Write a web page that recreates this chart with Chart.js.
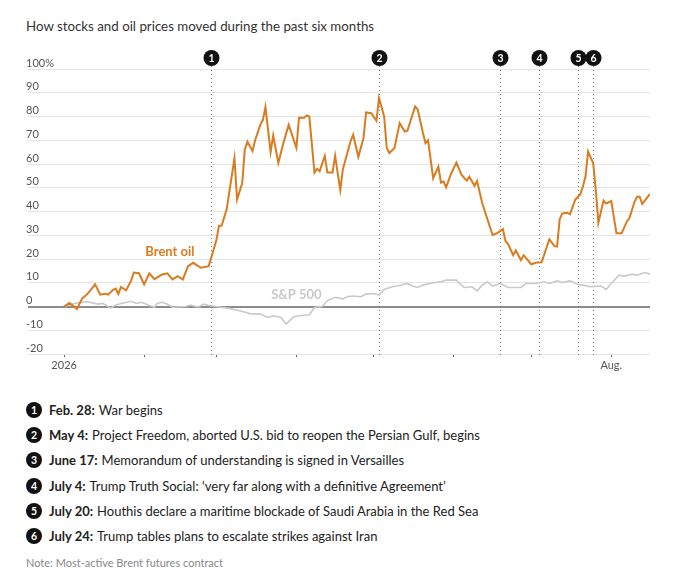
<!DOCTYPE html>
<html>
<head>
<meta charset="utf-8">
<script src="https://cdn.jsdelivr.net/npm/chart.js@4.4.1/dist/chart.umd.min.js"></script>
<style>
  body { margin: 0; width: 699px; height: 570px; background: #fff; position: relative; overflow: hidden;
         font-family: Lato, "Noto Sans", sans-serif; color: #222; }
  #title { position: absolute; left: 26px; top: 18px; font-size: 13.3px; color: #333; white-space: nowrap; }
  #wrap { position: absolute; left: 0; top: 0; width: 699px; height: 380px; }
  #events { position: absolute; left: 26px; top: 397px; margin: 0; padding: 0; list-style: none; font-size: 13px; }
  #events li { height: 25.3px; display: flex; align-items: center; white-space: nowrap; }
  #events .num { width: 16px; height: 16px; border-radius: 50%; background: #111; color: #fff; font-size: 10.5px;
                 font-weight: 700; display: flex; align-items: center; justify-content: center; margin-right: 7px; }
  #events b { margin-right: 4px; }
  #note { position: absolute; left: 26px; top: 556px; font-size: 11px; color: #888; }
</style>
</head>
<body>
<div id="title">How stocks and oil prices moved during the past six months</div>
<div id="wrap"><canvas id="chart"></canvas></div>
<ul id="events"></ul>
<div id="note">Note: Most-active Brent futures contract</div>
<script>
// days since Jan. 1, 2026
const brentDays = [0,2,5,7,9,12,14,16,17,19,20,21,22,24,26,27,29,31,33,35,38,40,42,44,46,48,50,53,56,57,
  59,60,61,63,66,67,69,70,71,73,74,76,77,78,80,81,83,85,87,90,91,93,94,95,97,98,99,101,102,104,
  105,107,108,111,112,114,116,117,119,121,122,124,125,126,128,130,132,133,136,137,139,140,141,143,145,146,147,148,150,152,
  154,156,157,159,160,162,166,168,170,171,172,174,175,177,178,181,183,185,188,190,191,192,193,195,196,198,200,201,202,203,
  205,206,207,209,210,212,214,216,218,219,221,222,223,224,227];
const brentPct = [0,1.5,-1,3.4,5.2,9.3,5,5.4,5,7,7.5,5.3,8.2,6.8,11,14.3,14,9.3,14,11.5,13.5,14,11.4,12.8,11.4,17,18.4,16.3,17,20.5,
  28,34,34,41,62.5,45,52,66,69.5,65.5,70,76.5,78.5,84,65,72,60.5,69,76.5,66.8,79.5,79.5,80.5,80,56.4,58,57,63.4,56.4,56.4,
  63.4,49,57.8,69.7,72.3,63,70.9,81.7,81.4,78.2,87.8,80,66.7,64.6,66.7,77.2,73.7,74,84.2,83,73.2,68.8,70,54,58.9,52.2,52.6,50.2,56.1,60.6,
  55.4,53,54.7,50.8,52.8,43.5,30.1,31,32.6,27.6,26.3,21.6,23.6,19.5,21.6,17.8,18.5,18.6,28.3,25.4,25.2,36.7,39.2,39.5,38.8,44.9,47.3,50.5,54.7,65.2,
  60.3,49,35.3,44.6,43.4,44.4,30.8,30.8,35.7,37.1,44.1,46.2,46.2,43.2,47.4];

const spxDays = [0,3,6,9,13,15,18,20,23,26,28,30,33,35,36,38,40,42,47,49,52,54,56,59,64,68,72,76,79,81,
  84,86,89,91,95,97,100,102,105,108,110,112,115,117,120,122,124,127,129,133,135,137,139,143,146,148,152,153,155,158,
  160,162,164,166,169,172,177,179,183,186,188,191,193,196,199,201,204,208,210,212,215,217,220,222,225,227];
const spxPct = [0,1,1.7,2,1,1.3,-0.7,0.6,1.5,2.2,1.3,1.8,0.4,-0.3,1.3,1.8,1,-0.3,0,0.6,-0.3,1,0.4,0,-0.8,-1.8,-3,-3.2,-4.6,-3.9,
  -4.6,-7.4,-4.3,-3.9,-3.5,-0.4,0,2.5,3.9,3.2,4.2,4.4,4.1,5.2,5.5,4.8,7.2,8.3,8.6,9.7,8.6,8,9,10,10.4,11.1,11.1,10,8,8.3,
  6.6,9,10.4,8.6,9.7,8,8,9.7,9.7,10.4,9.7,10.8,10.1,10.8,9.4,9,8.3,8.6,7.2,9.7,13.2,12.8,13.6,13.2,14.3,13.6];

const eventDays = [57, 122, 169, 184, 199, 205];
const eventDates = ["Feb. 28:", "May 4:", "June 17:", "July 4:", "July 20:", "July 24:"];
const eventTexts = [
  "War begins",
  "Project Freedom, aborted U.S. bid to reopen the Persian Gulf, begins",
  "Memorandum of understanding is signed in Versailles",
  "Trump Truth Social: \u2018very far along with a definitive Agreement\u2019",
  "Houthis declare a maritime blockade of Saudi Arabia in the Red Sea",
  "Trump tables plans to escalate strikes against Iran"
];
const monthDays = [0, 31, 59, 90, 120, 151, 181, 212];
const monthLabels = ["2026", "", "", "", "", "", "", "Aug."];

const ORANGE = "#d97b1f";
const GRAY = "#c9c9c9";

const list = document.getElementById("events");
eventDates.forEach((d, i) => {
    const li = document.createElement("li");
    li.innerHTML = `<span class="num">${i + 1}</span><b>${d}</b>${eventTexts[i]}`;
    list.appendChild(li);
});

Chart.defaults.font.family = 'Lato, "Noto Sans", sans-serif';

const annotate = {
    id: "annotate",
    beforeDatasetsDraw(chart) {
        const { ctx, chartArea, scales: { x } } = chart;
        ctx.save();
        ctx.strokeStyle = "#777";
        ctx.lineWidth = 1;
        ctx.setLineDash([1, 3]);
        eventDays.forEach(d => {
            const px = Math.round(x.getPixelForValue(d)) + 0.5;
            ctx.beginPath();
            ctx.moveTo(px, chartArea.top - 3);
            ctx.lineTo(px, chartArea.bottom + 3);
            ctx.stroke();
        });
        ctx.restore();
    },
    afterDatasetsDraw(chart) {
        const { ctx, chartArea, scales: { x, y } } = chart;
        ctx.save();
        ctx.textAlign = "center";
        ctx.textBaseline = "middle";
        ctx.font = 'bold 13px Lato, "Noto Sans", sans-serif';
        ctx.fillStyle = ORANGE;
        ctx.fillText("Brent oil", x.getPixelForValue(41), y.getPixelForValue(22.9));
        ctx.fillStyle = GRAY;
        ctx.fillText("S&P 500", x.getPixelForValue(90), y.getPixelForValue(4.8));

        ctx.font = 'bold 10.5px Lato, "Noto Sans", sans-serif';
        eventDays.forEach((d, i) => {
            const px = Math.round(x.getPixelForValue(d)) + 0.5;
            const cy = chartArea.top - 11;
            ctx.beginPath();
            ctx.arc(px, cy, 8, 0, Math.PI * 2);
            ctx.fillStyle = "#111";
            ctx.fill();
            ctx.fillStyle = "#fff";
            ctx.fillText(String(i + 1), px, cy + 0.5);
        });
        ctx.restore();
    }
};

new Chart(document.getElementById("chart"), {
    type: "line",
    data: {
        datasets: [
            {
                label: "Brent oil",
                data: brentDays.map((d, i) => ({ x: d, y: brentPct[i] })),
                borderColor: ORANGE,
                borderWidth: 2,
                pointRadius: 0,
                tension: 0
            },
            {
                label: "S&P 500",
                data: spxDays.map((d, i) => ({ x: d, y: spxPct[i] })),
                borderColor: GRAY,
                borderWidth: 1.6,
                pointRadius: 0,
                tension: 0
            }
        ]
    },
    options: {
        responsive: true,
        maintainAspectRatio: false,
        animation: false,
        layout: { padding: { left: 28, right: 49, top: 69, bottom: 0 } },
        plugins: { legend: { display: false }, tooltip: { enabled: false } },
        scales: {
            x: {
                type: "linear",
                min: -14,
                max: 227,
                afterFit: s => { s.height = 26; },
                afterBuildTicks: s => { s.ticks = monthDays.map(v => ({ value: v })); },
                border: { display: false },
                grid: { drawOnChartArea: false, tickLength: 3, color: "#666" },
                ticks: {
                    autoSkip: false, maxRotation: 0, padding: 2, color: "#555", font: { size: 11 },
                    callback: (v, i) => monthLabels[i]
                }
            },
            y: {
                min: -20,
                max: 100,
                afterFit: s => { s.width = 0; },
                border: { display: false },
                grid: {
                    drawTicks: false,
                    color: c => c.tick && c.tick.value === 0 ? "#8c8c8c" : "#e4e4e4",
                    lineWidth: c => c.tick && c.tick.value === 0 ? 2 : 1
                },
                ticks: {
                    stepSize: 10, mirror: true, padding: -2, labelOffset: -6, color: "#555", font: { size: 11 },
                    callback: v => v === 100 ? "100%" : v
                }
            }
        }
    },
    plugins: [annotate]
});
</script>
</body>
</html>
